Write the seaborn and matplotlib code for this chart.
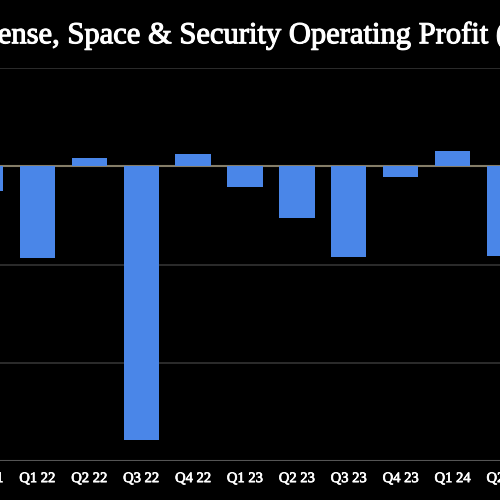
import matplotlib
matplotlib.use("Agg")
import matplotlib.pyplot as plt
import matplotlib.patheffects as pe
import seaborn as sns
import pandas as pd

# Quarterly operating profit, $ millions
quarters = ["Q4 21", "Q1 22", "Q2 22", "Q3 22", "Q4 22", "Q1 23",
            "Q2 23", "Q3 23", "Q4 23", "Q1 24", "Q2 24"]
profit = [-250, -929, 80, -2790, 127, -210, -530, -926, -110, 155, -915]
yticks = [-3000, -2000, -1000, 0, 1000]

df = pd.DataFrame({"quarter": quarters, "profit": profit})

sns.set_style("dark")
plt.rcParams["font.family"] = ["Liberation Serif", "DejaVu Serif"]

fig = plt.figure(figsize=(5, 5), dpi=100, facecolor="black")
# axes run past the figure edges, like a cropped screenshot
ax = fig.add_axes([-0.081, 0.078, 1.142, 0.786])
ax.set_facecolor("black")

sns.barplot(data=df, x="quarter", y="profit", color="#4a86e8",
            width=0.68, saturation=1, edgecolor="none", linewidth=0,
            ax=ax, zorder=3)

ax.set_ylim(-3000, 1000)
ax.set_xlim(-0.5, len(quarters) - 0.5)
ax.set_yticks(yticks)
ax.yaxis.grid(True, color="#333333", linewidth=1.2, zorder=0)
ax.xaxis.grid(False)
ax.axhline(0, color="#857d68", linewidth=1.5, zorder=2)
ax.axhline(-3000, color="#555555", linewidth=1.5, zorder=2)
for s in ax.spines.values():
    s.set_visible(False)

ax.set_xlabel("")
ax.set_ylabel("")
ax.tick_params(axis="x", colors="white", labelsize=10.5, length=0, pad=8)
ax.tick_params(axis="y", colors="white", labelleft=False, length=0)
for lbl in ax.get_xticklabels():
    lbl.set_path_effects([pe.withStroke(linewidth=0.5, foreground="white")])

title = fig.text(-0.096, 0.93, "Defense, Space & Security Operating Profit ($M)",
                 color="white", fontsize=22, ha="left", va="center")
title.set_path_effects([pe.withStroke(linewidth=0.8, foreground="white")])

plt.savefig("out.png", dpi=100, facecolor="black")
